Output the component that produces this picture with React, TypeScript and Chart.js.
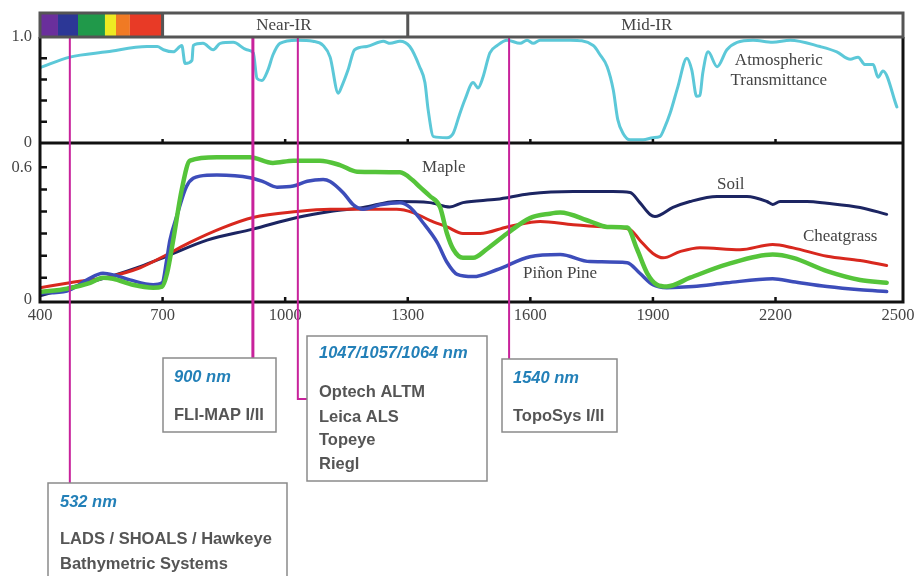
import React, { useEffect, useRef } from "react";
import { Chart, registerables } from "chart.js";

Chart.register(...registerables);

// ---------- DATA ----------
const xTicks = [400, 700, 1000, 1300, 1600, 1900, 2200, 2500];
const yTopTicks = [0, 0.2, 0.4, 0.6, 0.8, 1.0];
const yBotTicks = [0, 0.1, 0.2, 0.3, 0.4, 0.5, 0.6];

const transNm = [400, 473, 564, 662, 687, 702, 726, 747, 755, 772, 775, 799, 824, 841, 873, 906, 922, 931, 943, 958, 970, 987, 1029, 1068, 1093, 1110, 1130, 1138, 1154, 1170, 1200, 1240, 1257, 1281, 1305, 1329, 1342, 1350, 1363, 1396, 1411, 1426, 1440, 1460, 1472, 1484, 1501, 1519, 1543, 1575, 1592, 1607, 1624, 1698, 1754, 1771, 1788, 1803, 1814, 1827, 1844, 1876, 1900, 1917, 1929, 1942, 1961, 1983, 1995, 2007, 2015, 2022, 2035, 2057, 2081, 2106, 2145, 2193, 2236, 2309, 2350, 2383, 2402, 2419, 2439, 2451, 2463, 2497];
const transVal = [0.71, 0.81, 0.86, 0.91, 0.91, 0.88, 0.86, 0.92, 0.75, 0.78, 0.92, 0.94, 0.88, 0.94, 0.95, 0.88, 0.85, 0.61, 0.59, 0.69, 0.83, 0.94, 0.97, 0.96, 0.92, 0.81, 0.47, 0.53, 0.69, 0.88, 0.91, 0.96, 0.94, 0.96, 0.91, 0.72, 0.57, 0.31, 0.06, 0.05, 0.09, 0.26, 0.41, 0.57, 0.52, 0.62, 0.85, 0.92, 0.97, 0.94, 0.97, 0.94, 0.97, 0.97, 0.92, 0.83, 0.72, 0.50, 0.22, 0.09, 0.03, 0.03, 0.05, 0.06, 0.15, 0.28, 0.53, 0.80, 0.69, 0.44, 0.45, 0.66, 0.86, 0.72, 0.88, 0.95, 0.97, 0.95, 0.97, 0.91, 0.86, 0.79, 0.81, 0.74, 0.74, 0.62, 0.68, 0.34];

const mapleNm = [400, 466, 523, 554, 579, 627, 677, 699, 711, 726, 747, 767, 833, 914, 970, 1020, 1085, 1134, 1176, 1281, 1313, 1330, 1354, 1379, 1396, 1411, 1435, 1460, 1494, 1543, 1599, 1648, 1673, 1746, 1788, 1837, 1861, 1886, 1910, 1934, 1991, 2081, 2193, 2243, 2326, 2407, 2472];
const mapleVal = [0.035, 0.05, 0.077, 0.10, 0.095, 0.068, 0.055, 0.06, 0.12, 0.27, 0.50, 0.63, 0.645, 0.645, 0.62, 0.63, 0.63, 0.61, 0.58, 0.577, 0.54, 0.51, 0.47, 0.42, 0.30, 0.23, 0.19, 0.19, 0.23, 0.30, 0.37, 0.39, 0.395, 0.355, 0.33, 0.327, 0.23, 0.12, 0.068, 0.06, 0.10, 0.16, 0.205, 0.19, 0.13, 0.09, 0.077];

const pinonNm = [400, 466, 515, 554, 579, 620, 677, 699, 710, 718, 735, 759, 791, 833, 914, 946, 980, 1020, 1054, 1093, 1110, 1142, 1167, 1191, 1232, 1281, 1305, 1337, 1372, 1396, 1421, 1460, 1518, 1599, 1673, 1746, 1837, 1868, 1900, 1934, 1998, 2081, 2193, 2243, 2326, 2407, 2472];
const pinonVal = [0.03, 0.04, 0.09, 0.12, 0.113, 0.09, 0.068, 0.077, 0.18, 0.27, 0.38, 0.515, 0.56, 0.565, 0.553, 0.535, 0.51, 0.515, 0.537, 0.545, 0.536, 0.485, 0.43, 0.41, 0.43, 0.44, 0.42, 0.35, 0.26, 0.17, 0.115, 0.105, 0.136, 0.195, 0.205, 0.173, 0.168, 0.12, 0.068, 0.055, 0.06, 0.077, 0.095, 0.082, 0.06, 0.045, 0.037];

const cheatNm = [400, 473, 571, 645, 711, 767, 848, 921, 1029, 1110, 1191, 1273, 1313, 1354, 1396, 1435, 1477, 1543, 1599, 1624, 1705, 1788, 1844, 1868, 1900, 1925, 1966, 2015, 2113, 2193, 2243, 2326, 2407, 2472];
const cheatVal = [0.055, 0.077, 0.105, 0.145, 0.205, 0.26, 0.327, 0.373, 0.40, 0.41, 0.41, 0.41, 0.395, 0.36, 0.33, 0.30, 0.30, 0.33, 0.35, 0.355, 0.34, 0.33, 0.318, 0.27, 0.21, 0.19, 0.218, 0.236, 0.227, 0.25, 0.235, 0.197, 0.178, 0.155];

const soilNm = [400, 473, 571, 645, 711, 809, 921, 1029, 1110, 1191, 1273, 1354, 1403, 1435, 1518, 1599, 1705, 1802, 1844, 1868, 1893, 1905, 1949, 1991, 2057, 2130, 2179, 2193, 2211, 2277, 2326, 2407, 2472];
const soilVal = [0.018, 0.055, 0.105, 0.15, 0.198, 0.27, 0.32, 0.373, 0.40, 0.418, 0.445, 0.44, 0.42, 0.44, 0.455, 0.48, 0.49, 0.49, 0.486, 0.44, 0.386, 0.377, 0.418, 0.445, 0.468, 0.468, 0.445, 0.432, 0.445, 0.445, 0.437, 0.418, 0.387];

// spectral band header
const visEdgesNm = [400, 444, 493, 559, 586, 620, 700];
const visColors = ["#6a2f9c", "#2c3796", "#20994a", "#eeea22", "#f07a24", "#e83a26"];
const bandEdgesNm = [700, 1300];
const bandNames = ["Near-IR", "Mid-IR"];
const bandLabelNm = [997, 1885];

// curve labels (anchor in data units)
const curveLabels = ["Maple", "Soil", "Cheatgrass", "Piñon Pine"];
const curveLabelNm = [1335, 2057, 2267, 1582];
const curveLabelVal = [0.6, 0.52, 0.285, 0.12];
const transLabels = ["Atmospheric", "Transmittance"];
const transLabelNm = 2208;
const transLabelVal = [0.78, 0.59];

// laser lines (positions as drawn in the figure)
const laserNm = [473, 921, 1031, 1548];
const laserTitles = ["532 nm", "900 nm", "1047/1057/1064 nm", "1540 nm"];
const laserSystems = [
  ["LADS / SHOALS / Hawkeye", "Bathymetric Systems"],
  ["FLI-MAP I/II"],
  ["Optech ALTM", "Leica ALS", "Topeye", "Riegl"],
  ["TopoSys I/II"],
];

// ---------- LAYOUT / STYLE ----------
const calloutBoxes = [
  { l: 48, t: 483, r: 287, b: 600, tx: 60, titleY: 502, lineY: [539, 564], lw: 2, bendY: 0 },
  { l: 163, t: 358, r: 276, b: 432, tx: 174, titleY: 377, lineY: [415], lw: 3, bendY: 0 },
  { l: 307, t: 336, r: 487, b: 481, tx: 319, titleY: 353, lineY: [392, 417, 440, 464], lw: 2, bendY: 399 },
  { l: 502, t: 359, r: 617, b: 432, tx: 513, titleY: 378, lineY: [416], lw: 2, bendY: 0 },
];

const pts = (xs: number[], ys: number[]) => xs.map((x, i) => ({ x, y: ys[i] }));

const decorPlugin = {
  id: "decor",
  afterDatasetsDraw(chart: any) {
    const { ctx, chartArea: ca } = chart;
    const sx = chart.scales.x;
    const sT = chart.scales.yT;
    const sB = chart.scales.yB;
    const mid = sB.top;
    ctx.save();

    // curve labels
    ctx.fillStyle = "#444";
    ctx.font = '17px "Liberation Serif"';
    ctx.textBaseline = "middle";
    ctx.textAlign = "left";
    curveLabels.forEach((t, i) => {
      ctx.fillText(t, sx.getPixelForValue(curveLabelNm[i]), sB.getPixelForValue(curveLabelVal[i]));
    });
    ctx.textAlign = "center";
    transLabels.forEach((t, i) => {
      ctx.fillText(t, sx.getPixelForValue(transLabelNm), sT.getPixelForValue(transLabelVal[i]));
    });

    // panel borders
    ctx.strokeStyle = "#111";
    ctx.lineWidth = 3;
    ctx.beginPath();
    ctx.moveTo(ca.left, ca.top);
    ctx.lineTo(ca.left, ca.bottom);
    ctx.lineTo(ca.right, ca.bottom);
    ctx.lineTo(ca.right, ca.top);
    ctx.moveTo(ca.left, mid);
    ctx.lineTo(ca.right, mid);
    ctx.stroke();

    // inward tick marks
    ctx.lineWidth = 2.5;
    ctx.beginPath();
    yTopTicks.slice(1, -1).forEach((v) => {
      const y = sT.getPixelForValue(v);
      ctx.moveTo(ca.left, y);
      ctx.lineTo(ca.left + 7, y);
    });
    yBotTicks.slice(1).forEach((v) => {
      const y = sB.getPixelForValue(v);
      ctx.moveTo(ca.left, y);
      ctx.lineTo(ca.left + 7, y);
    });
    xTicks.slice(1, -1).forEach((v) => {
      const x = sx.getPixelForValue(v);
      ctx.moveTo(x, mid);
      ctx.lineTo(x, mid - 4);
      ctx.moveTo(x, ca.bottom);
      ctx.lineTo(x, ca.bottom - 5);
    });
    ctx.stroke();

    // laser lines
    ctx.strokeStyle = "#c8229b";
    laserNm.forEach((nm, i) => {
      const box = calloutBoxes[i];
      const x = sx.getPixelForValue(nm);
      ctx.lineWidth = box.lw;
      ctx.beginPath();
      ctx.moveTo(x, ca.top);
      if (box.bendY) {
        ctx.lineTo(x, box.bendY);
        ctx.lineTo(box.l, box.bendY);
      } else {
        ctx.lineTo(x, box.t);
      }
      ctx.stroke();
    });
    ctx.restore();
  },
  afterDraw(chart: any) {
    const { ctx, chartArea: ca } = chart;
    const sx = chart.scales.x;
    ctx.save();

    // spectral band header
    const bTop = 13;
    const bBot = ca.top;
    for (let i = 0; i < visColors.length; i++) {
      const x0 = sx.getPixelForValue(visEdgesNm[i]);
      const x1 = sx.getPixelForValue(visEdgesNm[i + 1]);
      ctx.fillStyle = visColors[i];
      ctx.fillRect(x0, bTop, x1 - x0, bBot - bTop);
    }
    ctx.strokeStyle = "#555";
    ctx.lineWidth = 3;
    ctx.strokeRect(ca.left, bTop, ca.right - ca.left, bBot - bTop);
    ctx.beginPath();
    bandEdgesNm.forEach((nm) => {
      const x = sx.getPixelForValue(nm);
      ctx.moveTo(x, bTop);
      ctx.lineTo(x, bBot);
    });
    ctx.stroke();
    ctx.fillStyle = "#444";
    ctx.font = '17px "Liberation Serif"';
    ctx.textAlign = "center";
    ctx.textBaseline = "middle";
    bandNames.forEach((n, i) => {
      ctx.fillText(n, sx.getPixelForValue(bandLabelNm[i]), (bTop + bBot) / 2 + 1);
    });

    // callout boxes
    calloutBoxes.forEach((b, i) => {
      ctx.fillStyle = "#fff";
      ctx.fillRect(b.l, b.t, b.r - b.l, b.b - b.t);
      ctx.strokeStyle = "#8a8a8a";
      ctx.lineWidth = 1.5;
      ctx.strokeRect(b.l, b.t, b.r - b.l, b.b - b.t);
      ctx.textAlign = "left";
      ctx.textBaseline = "middle";
      ctx.fillStyle = "#2380b8";
      ctx.font = 'italic bold 16.5px "Liberation Sans"';
      ctx.fillText(laserTitles[i], b.tx, b.titleY);
      ctx.fillStyle = "#555";
      ctx.font = 'bold 16.5px "Liberation Sans"';
      laserSystems[i].forEach((s, j) => ctx.fillText(s, b.tx, b.lineY[j]));
    });
    ctx.restore();
  },
};

const serif = { family: '"Liberation Serif", "Times New Roman", serif', size: 16.5 };

export default function App() {
  const ref = useRef<HTMLCanvasElement>(null);
  useEffect(() => {
    document.body.style.margin = "0";
    const canvas = ref.current!;
    const chart = new Chart(canvas, {
      type: "line",
      data: {
        datasets: [
          { label: "Maple", data: pts(mapleNm, mapleVal), yAxisID: "yB", borderColor: "#55c43a", borderWidth: 4.5 },
          { label: "Piñon Pine", data: pts(pinonNm, pinonVal), yAxisID: "yB", borderColor: "#3d4dba", borderWidth: 3.5 },
          { label: "Cheatgrass", data: pts(cheatNm, cheatVal), yAxisID: "yB", borderColor: "#d8281e", borderWidth: 3 },
          { label: "Soil", data: pts(soilNm, soilVal), yAxisID: "yB", borderColor: "#1c2562", borderWidth: 3 },
          { label: "Atmospheric Transmittance", data: pts(transNm, transVal), yAxisID: "yT", borderColor: "#5cc8d8", borderWidth: 3 },
        ],
      },
      options: {
        responsive: false,
        animation: false,
        devicePixelRatio: 1,
        layout: { padding: { top: 37, right: 17, left: 0, bottom: 0 } },
        plugins: { legend: { display: false }, tooltip: { enabled: false }, title: { display: false } },
        elements: {
          point: { radius: 0 },
          line: { cubicInterpolationMode: "monotone", borderCapStyle: "round", borderJoinStyle: "round", fill: false },
        },
        scales: {
          x: {
            type: "linear",
            position: "bottom",
            min: 400,
            max: 2512,
            grid: { display: false, drawTicks: false },
            border: { display: false },
            afterBuildTicks: (s: any) => {
              s.ticks = xTicks.map((v) => ({ value: v }));
            },
            afterFit: (s: any) => {
              s.height = 274;
            },
            ticks: { padding: 4, font: serif, color: "#444", maxRotation: 0, autoSkip: false, callback: (v: any) => String(v) },
          },
          yT: {
            type: "linear",
            position: "left",
            stack: "panels",
            stackWeight: 2,
            weight: 2,
            min: 0,
            max: 1.0,
            grid: { display: false, drawTicks: false },
            border: { display: false },
            afterBuildTicks: (s: any) => {
              s.ticks = yTopTicks.map((v) => ({ value: v }));
            },
            afterFit: (s: any) => {
              s.width = 40;
            },
            ticks: {
              padding: 8,
              font: serif,
              color: "#444",
              autoSkip: false,
              callback: (v: any) => (v === 0 ? "0" : Math.abs(v - 1) < 1e-6 ? "1.0" : ""),
            },
          },
          yB: {
            type: "linear",
            position: "left",
            stack: "panels",
            stackWeight: 3,
            weight: 1,
            min: -0.01,
            max: 0.71,
            grid: { display: false, drawTicks: false },
            border: { display: false },
            afterBuildTicks: (s: any) => {
              s.ticks = yBotTicks.map((v) => ({ value: v }));
            },
            afterFit: (s: any) => {
              s.width = 40;
            },
            ticks: {
              padding: 8,
              font: serif,
              color: "#444",
              autoSkip: false,
              callback: (v: any) => (v === 0 ? "0" : Math.abs(v - 0.6) < 1e-6 ? "0.6" : ""),
            },
          },
        },
      },
      plugins: [decorPlugin],
    } as any);
    return () => chart.destroy();
  }, []);
  return (
    <div style={{ width: 920, height: 576, position: "relative", background: "#fff", overflow: "hidden" }}>
      <canvas ref={ref} width={920} height={576} style={{ display: "block" }} />
    </div>
  );
}
